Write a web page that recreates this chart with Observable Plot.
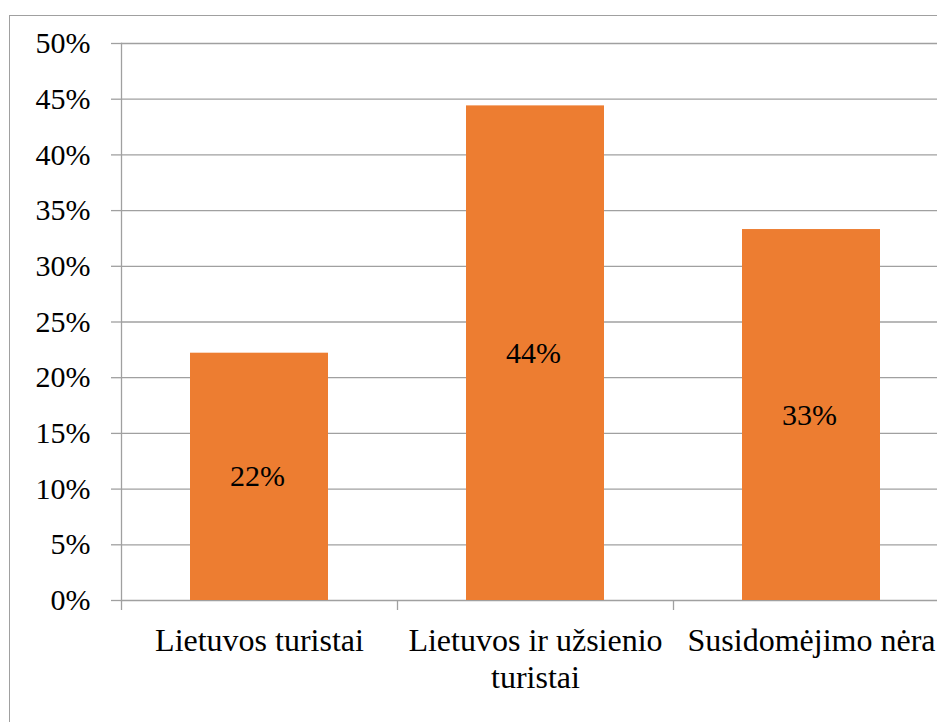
<!DOCTYPE html>
<html>
<head>
<meta charset="utf-8">
<script src="https://cdn.jsdelivr.net/npm/d3@7"></script>
<script src="https://cdn.jsdelivr.net/npm/@observablehq/plot@0.6"></script>
<style>
  html, body { margin: 0; padding: 0; background: #fff; overflow: hidden; }
  #wrap { position: relative; width: 937px; height: 722px; overflow: hidden; }
  #border { position: absolute; left: 9px; top: 15px; width: 2000px; height: 2000px; border: 1px solid #a0a0a0; box-sizing: border-box; pointer-events: none; }
  #wrap svg { position: absolute; left: 0; top: 0; }
  #wrap svg, #wrap svg text, #wrap svg g { font-family: "Liberation Serif", "Times New Roman", serif !important; }
</style>
</head>
<body>
<div id="wrap"><div id="border"></div></div>
<script>
const categories = ["Lietuvos turistai", "Lietuvos ir užsienio turistai", "Susidomėjimo nėra"];
const categoryLabels = ["Lietuvos turistai", "Lietuvos ir užsienio\nturistai", "Susidomėjimo nėra"];
const values = [0.222, 0.444, 0.333];
const barLabels = ["22%", "44%", "33%"];
const yTicks = [0, 0.05, 0.10, 0.15, 0.20, 0.25, 0.30, 0.35, 0.40, 0.45, 0.50];

const data = categories.map((c, i) => ({category: c, value: values[i], label: barLabels[i]}));
const labelOf = new Map(categories.map((c, i) => [c, categoryLabels[i]]));

const FONT = "Liberation Serif, Times New Roman, serif";
const FS = 30;
const FSX = 32;
const gridColor = "#a0a0a0";

const chart = Plot.plot({
  width: 937,
  height: 722,
  marginLeft: 121,
  marginRight: 0,
  marginTop: 43,
  marginBottom: 122,
  style: {fontFamily: FONT, fontSize: FS + "px", color: "#000", background: "transparent", overflow: "visible"},
  x: {domain: categories, range: [121, 949], paddingInner: 0.5, paddingOuter: 0.25},
  y: {domain: [0, 0.5], ticks: yTicks},
  marks: [
    Plot.ruleY(yTicks, {y: d => d, stroke: gridColor, strokeWidth: 1.3, strokeOpacity: 1}),
    Plot.barY(data, {x: "category", y: "value", fill: "#ED7D31"}),
    Plot.text(data, {x: "category", y: d => d.value / 2, text: "label", fill: "#000", fontSize: FS, fontFamily: FONT, dx: -2}),
    Plot.frame({anchor: "left", stroke: gridColor, strokeWidth: 1.3, strokeOpacity: 1}),
    Plot.ruleX(categories, {x: d => d, y1: 0, y2: 0, dx: -138, insetBottom: -10, stroke: gridColor, strokeWidth: 1.3, strokeOpacity: 1}),
    Plot.axisY({ticks: yTicks, tickFormat: d => Math.round(d * 100) + "%", tickSize: 10, tickPadding: 21, stroke: gridColor, strokeWidth: 1.3, strokeOpacity: 1, fontSize: FS, fontFamily: FONT, fill: "#000", label: null}),
    Plot.axisX({tickSize: 0, tickPadding: 25, tickFormat: d => labelOf.get(d), fontSize: FSX, fontFamily: FONT, fill: "#000", lineHeight: 1.14, label: null})
  ]
});
document.getElementById("wrap").appendChild(chart);
</script>
</body>
</html>
